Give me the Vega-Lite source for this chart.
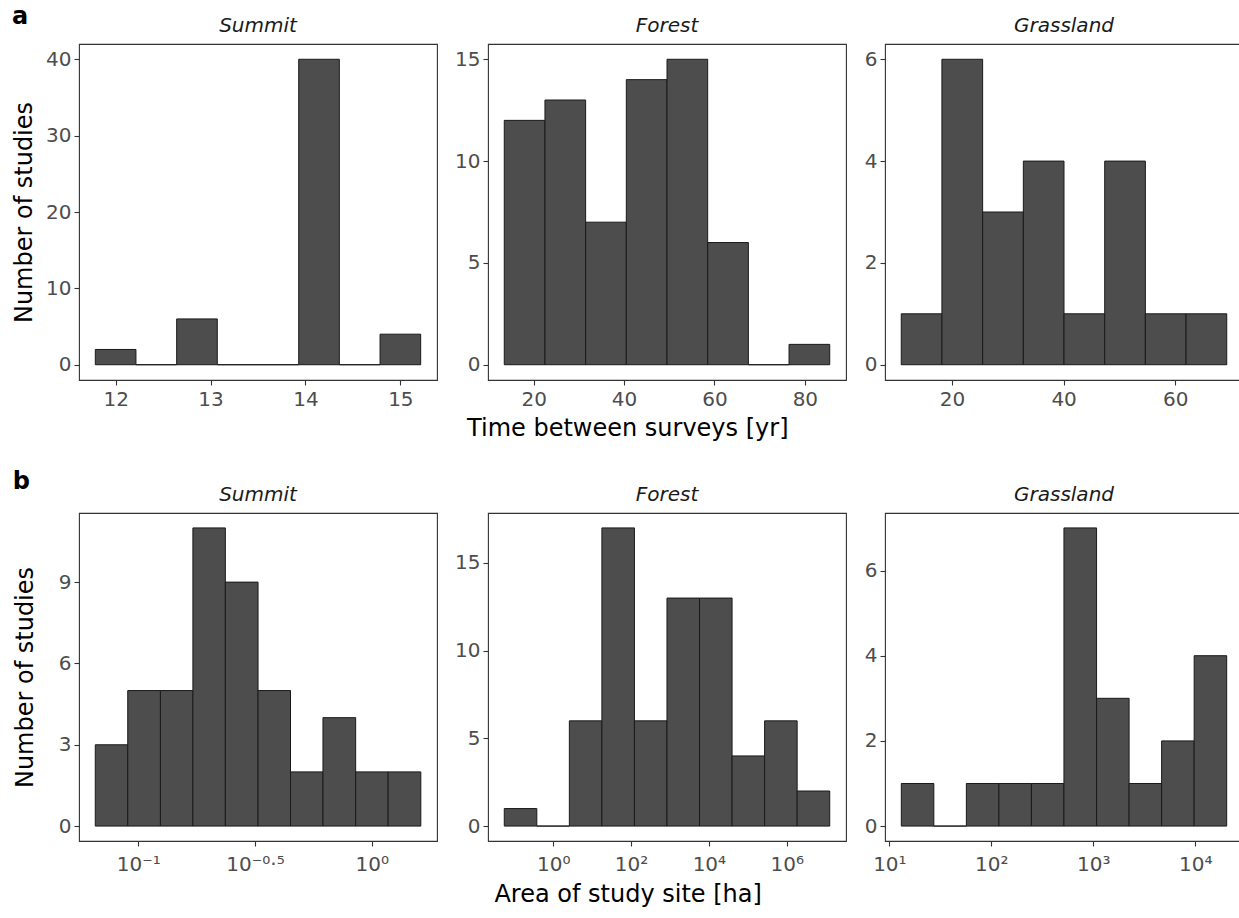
{
  "$schema": "https://vega.github.io/schema/vega-lite/v6.json",
  "background": "white",
  "padding": {"left": 12, "top": 5, "right": 0, "bottom": 2},
  "config": {
    "font": "DejaVu Sans",
    "view": {"stroke": "#333333", "strokeWidth": 1.1},
    "concat": {"spacing": 16},
    "axis": {
      "domain": false, "grid": false,
      "tickColor": "#333333", "tickSize": 5, "tickWidth": 1.1,
      "labelColor": "#4D4D4D", "labelFontSize": 20, "labelPadding": 3,
      "titleFontSize": 24, "titleFontWeight": "normal", "titleColor": "#000000",
      "titlePadding": 9
    },
    "axisX": {"labelPadding": 4},
    "title": {"fontSize": 20, "fontStyle": "italic", "fontWeight": "normal", "color": "#1A1A1A", "offset": 8}
  },
  "datasets": {
    "a_summit": [
      {"start": 11.786, "end": 12.214, "count": 2},
      {"start": 12.214, "end": 12.643, "count": 0},
      {"start": 12.643, "end": 13.071, "count": 6},
      {"start": 13.071, "end": 13.5, "count": 0},
      {"start": 13.5, "end": 13.929, "count": 0},
      {"start": 13.929, "end": 14.357, "count": 40},
      {"start": 14.357, "end": 14.786, "count": 0},
      {"start": 14.786, "end": 15.214, "count": 4}
    ],
    "a_forest": [
      {"start": 13.5, "end": 22.5, "count": 12},
      {"start": 22.5, "end": 31.5, "count": 13},
      {"start": 31.5, "end": 40.5, "count": 7},
      {"start": 40.5, "end": 49.5, "count": 14},
      {"start": 49.5, "end": 58.5, "count": 15},
      {"start": 58.5, "end": 67.5, "count": 6},
      {"start": 67.5, "end": 76.5, "count": 0},
      {"start": 76.5, "end": 85.5, "count": 1}
    ],
    "a_grass": [
      {"start": 10.93, "end": 18.21, "count": 1},
      {"start": 18.21, "end": 25.5, "count": 6},
      {"start": 25.5, "end": 32.79, "count": 3},
      {"start": 32.79, "end": 40.07, "count": 4},
      {"start": 40.07, "end": 47.36, "count": 1},
      {"start": 47.36, "end": 54.64, "count": 4},
      {"start": 54.64, "end": 61.93, "count": 1},
      {"start": 61.93, "end": 69.21, "count": 1}
    ],
    "b_summit": [
      {"start": -1.184, "end": -1.045, "count": 3},
      {"start": -1.045, "end": -0.905, "count": 5},
      {"start": -0.905, "end": -0.766, "count": 5},
      {"start": -0.766, "end": -0.627, "count": 11},
      {"start": -0.627, "end": -0.487, "count": 9},
      {"start": -0.487, "end": -0.348, "count": 5},
      {"start": -0.348, "end": -0.209, "count": 2},
      {"start": -0.209, "end": -0.069, "count": 4},
      {"start": -0.069, "end": 0.07, "count": 2},
      {"start": 0.07, "end": 0.21, "count": 2}
    ],
    "b_forest": [
      {"start": -1.256, "end": -0.42, "count": 1},
      {"start": -0.42, "end": 0.416, "count": 0},
      {"start": 0.416, "end": 1.252, "count": 6},
      {"start": 1.252, "end": 2.088, "count": 17},
      {"start": 2.088, "end": 2.924, "count": 6},
      {"start": 2.924, "end": 3.76, "count": 13},
      {"start": 3.76, "end": 4.596, "count": 13},
      {"start": 4.596, "end": 5.432, "count": 4},
      {"start": 5.432, "end": 6.268, "count": 6},
      {"start": 6.268, "end": 7.105, "count": 2}
    ],
    "b_grass": [
      {"start": 1.117, "end": 1.436, "count": 1},
      {"start": 1.436, "end": 1.755, "count": 0},
      {"start": 1.755, "end": 2.074, "count": 1},
      {"start": 2.074, "end": 2.393, "count": 1},
      {"start": 2.393, "end": 2.712, "count": 1},
      {"start": 2.712, "end": 3.032, "count": 7},
      {"start": 3.032, "end": 3.351, "count": 3},
      {"start": 3.351, "end": 3.67, "count": 1},
      {"start": 3.67, "end": 3.989, "count": 2},
      {"start": 3.989, "end": 4.308, "count": 4}
    ]
  },
  "columns": 1,
  "align": "none",
  "spacing": 29,
  "concat": [
    {
      "title": {"text": "a", "anchor": "start", "frame": "bounds", "fontSize": 24, "fontWeight": "bold", "fontStyle": "normal", "color": "#000000", "offset": -14},
      "vconcat": [
        {
          "title": {"text": "Time between surveys [yr]", "orient": "bottom", "anchor": "middle", "fontSize": 24, "fontStyle": "normal", "fontWeight": "normal", "color": "#000000", "offset": 7},
          "hconcat": [
            {
              "title": "Summit", "width": 358, "height": 336,
              "data": {"name": "a_summit"},
              "mark": {"type": "bar", "fill": "#4D4D4D", "stroke": "#1A1A1A", "strokeWidth": 1},
              "encoding": {
                "x": {"field": "start", "type": "quantitative", "scale": {"domain": [11.614, 15.386], "nice": false, "zero": false}, "axis": {"title": null, "values": [12, 13, 14, 15]}},
                "x2": {"field": "end"},
                "y": {"field": "count", "type": "quantitative", "scale": {"domain": [-2, 42], "nice": false, "zero": false}, "axis": {"title": "Number of studies", "values": [0, 10, 20, 30, 40]}},
                "y2": {"datum": 0}
              }
            },
            {
              "title": "Forest", "width": 358, "height": 336,
              "data": {"name": "a_forest"},
              "mark": {"type": "bar", "fill": "#4D4D4D", "stroke": "#1A1A1A", "strokeWidth": 1},
              "encoding": {
                "x": {"field": "start", "type": "quantitative", "scale": {"domain": [9.9, 89.1], "nice": false, "zero": false}, "axis": {"title": null, "values": [20, 40, 60, 80]}},
                "x2": {"field": "end"},
                "y": {"field": "count", "type": "quantitative", "scale": {"domain": [-0.75, 15.75], "nice": false, "zero": false}, "axis": {"title": null, "values": [0, 5, 10, 15]}},
                "y2": {"datum": 0}
              }
            },
            {
              "title": "Grassland", "width": 358, "height": 336,
              "data": {"name": "a_grass"},
              "mark": {"type": "bar", "fill": "#4D4D4D", "stroke": "#1A1A1A", "strokeWidth": 1},
              "encoding": {
                "x": {"field": "start", "type": "quantitative", "scale": {"domain": [8.02, 72.12], "nice": false, "zero": false}, "axis": {"title": null, "values": [20, 40, 60]}},
                "x2": {"field": "end"},
                "y": {"field": "count", "type": "quantitative", "scale": {"domain": [-0.3, 6.3], "nice": false, "zero": false}, "axis": {"title": null, "values": [0, 2, 4, 6]}},
                "y2": {"datum": 0}
              }
            }
          ]
        }
      ]
    },
    {
      "title": {"text": "b", "anchor": "start", "frame": "bounds", "fontSize": 24, "fontWeight": "bold", "fontStyle": "normal", "color": "#000000", "offset": -10},
      "vconcat": [
        {
          "title": {"text": "Area of study site [ha]", "orient": "bottom", "anchor": "middle", "fontSize": 24, "fontStyle": "normal", "fontWeight": "normal", "color": "#000000", "offset": 8},
          "hconcat": [
            {
              "title": "Summit", "width": 358, "height": 328,
              "data": {"name": "b_summit"},
              "mark": {"type": "bar", "fill": "#4D4D4D", "stroke": "#1A1A1A", "strokeWidth": 1},
              "encoding": {
                "x": {"field": "start", "type": "quantitative", "scale": {"domain": [-1.2537, 0.2793], "nice": false, "zero": false}, "axis": {"title": null, "labelPadding": 8, "values": [-1, -0.5, 0], "labelExpr": "datum.value == -1 ? '10⁻¹' : datum.value == -0.5 ? '10⁻⁰·⁵' : '10⁰'"}},
                "x2": {"field": "end"},
                "y": {"field": "count", "type": "quantitative", "scale": {"domain": [-0.55, 11.55], "nice": false, "zero": false}, "axis": {"title": "Number of studies", "titlePadding": 21, "values": [0, 3, 6, 9]}},
                "y2": {"datum": 0}
              }
            },
            {
              "title": "Forest", "width": 358, "height": 328,
              "data": {"name": "b_forest"},
              "mark": {"type": "bar", "fill": "#4D4D4D", "stroke": "#1A1A1A", "strokeWidth": 1},
              "encoding": {
                "x": {"field": "start", "type": "quantitative", "scale": {"domain": [-1.674, 7.523], "nice": false, "zero": false}, "axis": {"title": null, "labelPadding": 8, "values": [0, 2, 4, 6], "labelExpr": "datum.value == 0 ? '10⁰' : datum.value == 2 ? '10²' : datum.value == 4 ? '10⁴' : '10⁶'"}},
                "x2": {"field": "end"},
                "y": {"field": "count", "type": "quantitative", "scale": {"domain": [-0.85, 17.85], "nice": false, "zero": false}, "axis": {"title": null, "values": [0, 5, 10, 15]}},
                "y2": {"datum": 0}
              }
            },
            {
              "title": "Grassland", "width": 358, "height": 328,
              "data": {"name": "b_grass"},
              "mark": {"type": "bar", "fill": "#4D4D4D", "stroke": "#1A1A1A", "strokeWidth": 1},
              "encoding": {
                "x": {"field": "start", "type": "quantitative", "scale": {"domain": [0.957, 4.468], "nice": false, "zero": false}, "axis": {"title": null, "labelPadding": 8, "values": [1, 2, 3, 4], "labelExpr": "datum.value == 1 ? '10¹' : datum.value == 2 ? '10²' : datum.value == 3 ? '10³' : '10⁴'"}},
                "x2": {"field": "end"},
                "y": {"field": "count", "type": "quantitative", "scale": {"domain": [-0.35, 7.35], "nice": false, "zero": false}, "axis": {"title": null, "values": [0, 2, 4, 6]}},
                "y2": {"datum": 0}
              }
            }
          ]
        }
      ]
    }
  ]
}
